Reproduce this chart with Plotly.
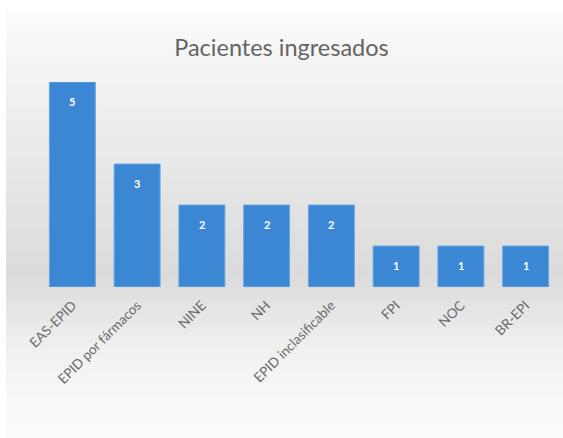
import plotly.graph_objects as go

categories = ["EAS-EPID", "EPID por fármacos", "NINE", "NH",
              "EPID inclasificable", "FPI", "NOC", "BR-EPI"]
patients = [5, 3, 2, 2, 2, 1, 1, 1]

W, H = 563, 438
M_L, M_R, M_T, M_B = 40, 5, 82, 151
plot_h = H - M_T - M_B

# soft vertical background gradient (pixel row -> grey level)
stops = [(0, 255), (12, 252), (60, 244), (150, 234), (230, 224), (275, 219),
         (300, 226), (340, 238), (390, 247), (438, 252)]


def grey_at(y):
    for (y0, g0), (y1, g1) in zip(stops, stops[1:]):
        if y0 <= y <= y1:
            t = (y - y0) / (y1 - y0) if y1 > y0 else 0
            return round(g0 + (g1 - g0) * t)
    return stops[-1][1]


def to_paper_y(py):
    return (H - M_B - py) / plot_h


def to_paper_x(px):
    return (px - M_L) / (W - M_L - M_R)


shapes = []
step = 6
for y in range(6, H - 4, step):
    g = grey_at(y + step / 2)
    shapes.append(dict(
        type="rect", xref="paper", yref="paper", layer="below",
        x0=to_paper_x(6), x1=to_paper_x(W), y0=to_paper_y(y + step + 0.5), y1=to_paper_y(y),
        fillcolor=f"rgb({g},{g},{g})", line=dict(width=0),
    ))

fig = go.Figure(go.Bar(
    x=categories,
    y=patients,
    marker=dict(color="#3b87d3", line=dict(color="#6aaae4", width=1)),
    hoverinfo="x+y",
))

# value labels sit a little below each bar's top edge
annotations = [
    dict(x=c, y=v, xref="x", yref="y", text=str(v), showarrow=False,
         yanchor="middle", yshift=-19,
         font=dict(family="Lato", size=11, color="white", weight="bold"))
    for c, v in zip(categories, patients)
]

fig.update_layout(
    width=W, height=H,
    margin=dict(l=M_L, r=M_R, t=M_T, b=M_B),
    paper_bgcolor="white",
    plot_bgcolor="rgba(0,0,0,0)",
    shapes=shapes,
    annotations=annotations,
    showlegend=False,
    bargap=0.29,
    title=dict(text="Pacientes ingresados", x=0.5, xanchor="center",
               y=1 - 48 / H, yanchor="middle",
               font=dict(family="Lato", size=23.5, color="#646464")),
    xaxis=dict(range=[-0.5, 7.5], tickangle=-45, showgrid=False, zeroline=False,
               showline=False, ticks="", ticklabelstandoff=7,
               tickfont=dict(family="Lato", size=13.5, color="#6a6a6a")),
    yaxis=dict(range=[0, 5], visible=False, showgrid=False, fixedrange=True),
)

fig.write_html("out.html")
